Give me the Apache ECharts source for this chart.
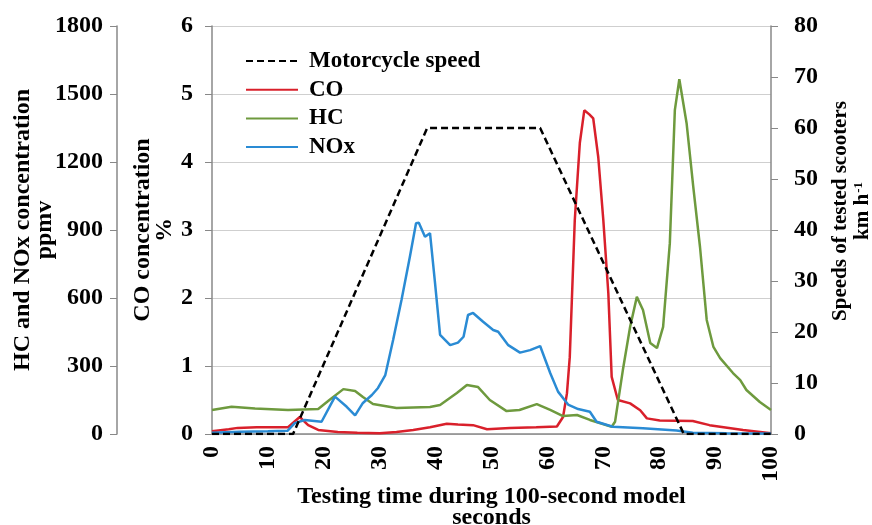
<!DOCTYPE html>
<html>
<head>
<meta charset="utf-8">
<script src="https://cdn.jsdelivr.net/npm/echarts@6/dist/echarts.min.js"></script>
<style>
    html, body { margin: 0; padding: 0; background: #fff; }
    #chart { width: 872px; height: 525px; }
</style>
</head>
<body>
<div id="chart"></div>
<script>
// speed of the motorcycle, km/h
const speedTime = [0, 14.5, 38.5, 58.7, 84.4, 100];
const speedValue = [0, 0, 60, 60, 0, 0];

// CO, %
const coTime = [0, 3, 4.6, 8, 13.6, 15.7, 17.2, 19, 22.5, 26, 30, 33, 36, 39, 42, 44, 46.7, 49.2, 53.3, 58, 61.7,
    62.8, 63.5, 64, 64.9, 65.8, 66.6, 67.5, 68.2, 69.1, 70, 70.9, 71.5, 72.6, 74.8, 76.6, 77.8, 80.1, 86, 89, 95, 100];
const coValue = [0.04, 0.07, 0.09, 0.1, 0.1, 0.25, 0.13, 0.06, 0.03, 0.02, 0.01, 0.03, 0.06, 0.1, 0.15, 0.14, 0.13, 0.07, 0.09, 0.1, 0.11,
    0.25, 0.6, 1.13, 3.15, 4.28, 4.76, 4.7, 4.64, 4.07, 3.15, 2.07, 0.84, 0.5, 0.45, 0.35, 0.23, 0.2, 0.19, 0.13, 0.06, 0.01];

// HC, ppmv
const hcTime = [0, 3.5, 7.7, 13.6, 19, 21, 23.5, 25.6, 27, 28.8, 33, 39, 40.8, 43.8, 45.6, 47.6, 49.7, 52.7, 55, 58.1, 60.5,
    62.8, 65.3, 67.6, 71.5, 72.1, 73.5, 74.8, 76, 77.1, 78.4, 79.6, 80.7, 81.9, 82.8, 83.6, 84.9, 86.1, 87.3, 88.5, 89.7,
    90.9, 93.2, 94.5, 95.6, 98, 100];
const hcValue = [106, 120, 113, 106, 110, 150, 198, 190, 163, 132, 115, 119, 128, 181, 216, 207, 150, 101, 106, 132, 106,
    79, 84, 62, 32, 54, 282, 473, 605, 547, 401, 379, 473, 842, 1429, 1565, 1371, 1089, 825, 503, 384,
    335, 269, 238, 194, 141, 106];

// NOx, ppmv
const noxTime = [0, 5, 10, 13.5, 14.8, 16.6, 19.6, 22, 24.1, 25.6, 27, 28.6, 29.7, 31, 32.4, 33.9, 35.4, 36.5, 37, 38.1, 39,
    39.9, 40.8, 42.6, 44, 45, 45.8, 46.7, 48.5, 50.3, 51.2, 53, 55.1, 56.9, 58.7, 60.5, 61.9, 63.7, 65.5, 67.6, 68.8,
    71.7, 77.1, 83.1, 86, 92, 100];
const noxValue = [6, 10, 12, 14, 48, 62, 54, 165, 120, 82, 137, 172, 203, 260, 415, 591, 782, 930, 932, 870, 886,
    666, 437, 392, 403, 429, 525, 534, 495, 459, 451, 392, 359, 370, 388, 269, 187, 130, 110, 98, 54,
    32, 25, 15, 6, 3, 2];

const xTicks = [0, 10, 20, 30, 40, 50, 60, 70, 80, 90, 100];

function pairs(times, values) {
    return times.map((t, i) => [t, values[i]]);
}

const font = 'Liberation Serif';
const labelStyle = { fontFamily: font, fontWeight: 'bold', fontSize: 24, color: '#000' };
const nameStyle = { fontFamily: font, fontWeight: 'bold', fontSize: 24, color: '#000', lineHeight: 22 };
const axisGray = '#888';
const plain = v => String(v);

const myChart = echarts.init(document.getElementById('chart'));

const option = {
    backgroundColor: '#fff',
    animation: false,
    grid: { left: 212, right: 101, top: 26, bottom: 91, outerBoundsMode: 'none', containLabel: false },
    legend: {
        orient: 'vertical',
        left: 240,
        top: 44.5,
        itemWidth: 52,
        itemHeight: 23,
        itemGap: 5.7,
        itemStyle: { opacity: 0 },
        textStyle: { fontFamily: font, fontWeight: 'bold', fontSize: 23, lineHeight: 23, color: '#000', padding: [0, 0, 0, 6] },
        data: ['Motorcycle speed', 'CO', 'HC', 'NOx']
    },
    xAxis: {
        type: 'value',
        min: 0,
        max: 100,
        interval: 10,
        name: 'Testing time during 100-second model\nseconds',
        nameLocation: 'middle',
        nameGap: 52,
        nameMoveOverlap: false,
        nameTextStyle: Object.assign({}, nameStyle, { lineHeight: 21 }),
        axisLine: { lineStyle: { color: axisGray, width: 1.5 } },
        axisTick: { show: false },
        splitLine: { show: false },
        axisLabel: Object.assign({ rotate: 90, margin: 12,
            formatter: v => xTicks.includes(v) ? String(v) : '' }, labelStyle)
    },
    yAxis: [
        {
            type: 'value',
            position: 'left',
            min: 0,
            max: 6,
            interval: 1,
            name: 'CO concentration\n%',
            nameLocation: 'middle',
            nameRotate: 90,
            nameGap: 36,
            nameMoveOverlap: false,
            nameTextStyle: nameStyle,
            axisLine: { show: true, lineStyle: { color: axisGray, width: 1.5 } },
            axisTick: { show: true, length: 7, lineStyle: { color: axisGray } },
            splitLine: { show: true, lineStyle: { color: '#cfcfcf', width: 1.2 } },
            axisLabel: Object.assign({ margin: 19, formatter: plain }, labelStyle)
        },
        {
            type: 'value',
            position: 'left',
            offset: 95,
            min: 0,
            max: 1800,
            interval: 300,
            name: 'HC and NOx concentration\nppmv',
            nameLocation: 'middle',
            nameRotate: 90,
            nameGap: 61,
            nameMoveOverlap: false,
            nameTextStyle: nameStyle,
            axisLine: { show: true, lineStyle: { color: axisGray, width: 1.5 } },
            axisTick: { show: true, length: 7, lineStyle: { color: axisGray } },
            splitLine: { show: false },
            axisLabel: Object.assign({ margin: 14, formatter: plain }, labelStyle)
        },
        {
            type: 'value',
            position: 'right',
            min: 0,
            max: 80,
            interval: 10,
            name: 'Speeds of tested scooters\n{u|km h}{sup|-1}',
            nameLocation: 'middle',
            nameRotate: 90,
            nameGap: 59,
            nameMoveOverlap: false,
            nameTextStyle: {
                fontFamily: font, fontWeight: 'bold', fontSize: 21, color: '#000', lineHeight: 22,
                padding: [0, 0, 0, 38],
                rich: {
                    u: { fontFamily: font, fontWeight: 'bold', fontSize: 21, color: '#000', lineHeight: 22 },
                    sup: { fontFamily: font, fontWeight: 'bold', fontSize: 13, color: '#000', lineHeight: 22, verticalAlign: 'top', padding: [0, 0, 8, 1] }
                }
            },
            axisLine: { show: true, lineStyle: { color: axisGray, width: 1.5 } },
            axisTick: { show: true, length: 7, lineStyle: { color: axisGray } },
            splitLine: { show: false },
            axisLabel: Object.assign({ margin: 23, formatter: plain }, labelStyle)
        }
    ],
    series: [
        {
            name: 'Motorcycle speed',
            type: 'line',
            yAxisIndex: 2,
            data: pairs(speedTime, speedValue),
            symbol: 'none',
            z: 5,
            color: '#000',
            lineStyle: { color: '#000', width: 2.5, type: [7, 4] }
        },
        {
            name: 'CO',
            type: 'line',
            yAxisIndex: 0,
            data: pairs(coTime, coValue),
            symbol: 'none',
            color: '#d9202b',
            lineStyle: { color: '#d9202b', width: 2.5 }
        },
        {
            name: 'HC',
            type: 'line',
            yAxisIndex: 1,
            data: pairs(hcTime, hcValue),
            symbol: 'none',
            color: '#6e9a3e',
            lineStyle: { color: '#6e9a3e', width: 2.5 }
        },
        {
            name: 'NOx',
            type: 'line',
            yAxisIndex: 1,
            data: pairs(noxTime, noxValue),
            symbol: 'none',
            color: '#2a8bd4',
            lineStyle: { color: '#2a8bd4', width: 2.5 }
        }
    ]
};

myChart.setOption(option);
</script>
</body>
</html>
